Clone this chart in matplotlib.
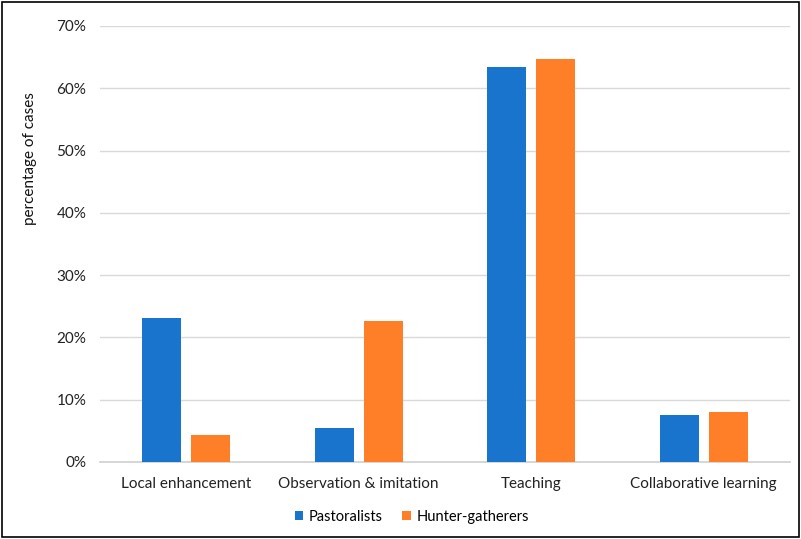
import numpy as np
import matplotlib
matplotlib.use("Agg")
import matplotlib.pyplot as plt
from matplotlib.patches import Rectangle
from matplotlib.ticker import PercentFormatter

# --- data ---
categories = ["Local enhancement", "Observation & imitation", "Teaching", "Collaborative learning"]
pastoralists = [23.1, 5.5, 63.4, 7.6]
hunter_gatherers = [4.3, 22.7, 64.7, 8.1]
yticks = [0, 10, 20, 30, 40, 50, 60, 70]

plt.rcParams["font.family"] = ["Lato", "DejaVu Sans"]

fig = plt.figure(figsize=(8.01, 5.39), dpi=100)
ax = fig.add_axes([0.125, 0.1429, 0.861, 0.8089])

x = np.arange(len(categories))
w = 0.226
off = 0.142
ax.bar(x - off, pastoralists, w, color="#1874CD", label="Pastoralists", zorder=3)
ax.bar(x + off, hunter_gatherers, w, color="#FE7F27", label="Hunter-gatherers", zorder=3)

ax.set_xlim(-0.5, len(categories) - 0.5)
ax.set_ylim(0, 70)
ax.set_yticks(yticks)
ax.yaxis.set_major_formatter(PercentFormatter(decimals=0))
ax.set_xticks(x)
ax.set_xticklabels(categories)
ax.tick_params(axis="both", length=0, labelsize=11, colors="#222222")
ax.tick_params(axis="x", pad=11)
ax.tick_params(axis="y", pad=10)
ax.grid(axis="y", color="#d9d9d9", linewidth=1, zorder=0)

for s in ["top", "right", "left"]:
    ax.spines[s].set_visible(False)
ax.spines["bottom"].set_color("#d0d0d0")
ax.spines["bottom"].set_linewidth(1.2)

# y label sits high on the axis, as in the reference
ax.set_ylabel("percentage of cases", fontsize=11, color="#111111")
ax.yaxis.set_label_coords(-0.091, 0.697)

ax.legend(loc="upper center", bbox_to_anchor=(0.452, -0.08), ncol=2, frameon=False,
          fontsize=10.5, handlelength=0.6, handleheight=0.6, columnspacing=1.3, handletextpad=0.4)

# thin black frame round the whole picture
fig.patches.append(Rectangle((0.002, 0.003), 0.996, 0.994, transform=fig.transFigure,
                             fill=False, edgecolor="black", linewidth=1.2))

fig.savefig("out.png", dpi=100)
